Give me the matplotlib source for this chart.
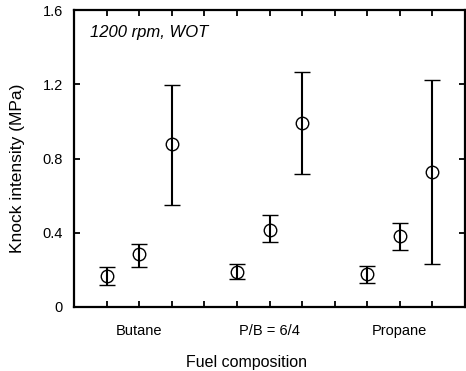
import matplotlib
matplotlib.use("Agg")
import matplotlib.pyplot as plt
import numpy as np

plt.rcParams['font.family'] = ['Liberation Sans', 'DejaVu Sans']

categories = ["Butane", "P/B = 6/4", "Propane"]
x_pos = [1, 2, 3, 5, 6, 7, 9, 10, 11]
means = [0.168, 0.288, 0.879, 0.191, 0.416, 0.991, 0.177, 0.380, 0.726]
upper = [0.216, 0.339, 1.198, 0.234, 0.497, 1.265, 0.223, 0.452, 1.225]
lower = [0.117, 0.216, 0.551, 0.150, 0.351, 0.714, 0.131, 0.306, 0.231]
cat_pos = [2, 6, 10]
yticks = [0, 0.4, 0.8, 1.2, 1.6]
ytick_labels = ["0", "0.4", "0.8", "1.2", "1.6"]

fig = plt.figure(figsize=(4.66, 3.71), dpi=100)
ax = fig.add_axes([74/466, 1-307/371, (465-74)/466, (307-10)/371])

m = np.array(means)
yerr = [m - np.array(lower), np.array(upper) - m]
ax.errorbar(x_pos, means, yerr=yerr, fmt='o', mfc='none', mec='black',
            ms=9, mew=1.0, ecolor='black', elinewidth=1.5, capsize=5.5,
            capthick=1.8, color='black')

ax.set_xlim(0, 12)
ax.set_ylim(0, 1.6)
ax.set_yticks(yticks)
ax.set_yticklabels(ytick_labels, fontsize=10.5)
ax.set_xticks(cat_pos)
ax.set_xticklabels(categories, fontsize=10.5)
ax.set_xticks(range(1, 12), minor=True)
ax.tick_params(axis='x', which='both', direction='in', top=True, length=4, width=1.3, pad=12)
ax.tick_params(axis='x', which='minor', length=4)
ax.tick_params(axis='y', direction='in', right=True, length=4, width=1.3, pad=8)
for s in ax.spines.values():
    s.set_linewidth(1.6)

fig.text(246/466, 1-363/371, "Fuel composition", fontsize=11.5, ha='center', va='center')
fig.text(18/466, 1-168/371, "Knock intensity (MPa)", fontsize=12.5, ha='center', va='center',
         rotation=90)
ax.text(0.04, 0.925, "1200 rpm, WOT", transform=ax.transAxes, fontsize=12,
        style='italic', va='center', ha='left')

fig.savefig("out.png", dpi=100)
